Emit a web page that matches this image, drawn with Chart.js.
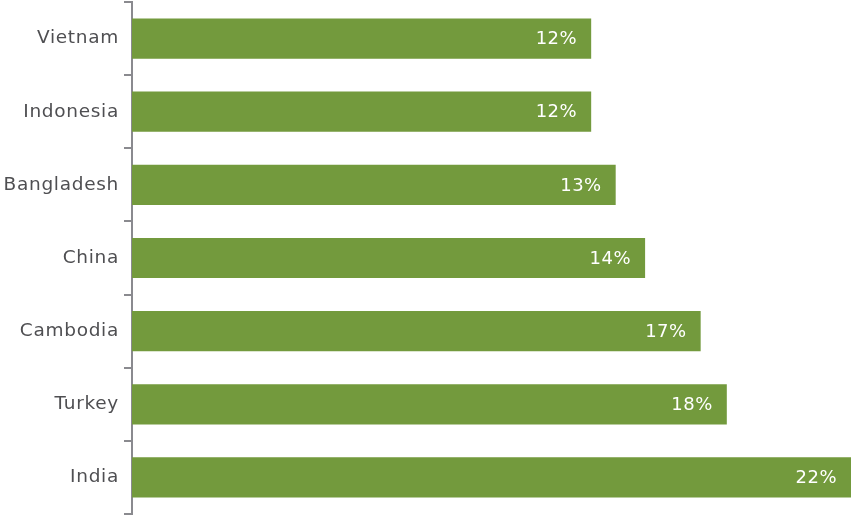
<!DOCTYPE html>
<html>
<head>
<meta charset="utf-8">
<script src="https://cdn.jsdelivr.net/npm/chart.js@4/dist/chart.umd.min.js"></script>
<style>
  html, body { margin: 0; padding: 0; background: #fff; }
  #wrap { width: 852px; height: 516px; }
</style>
</head>
<body>
<div id="wrap"><canvas id="myChart"></canvas></div>
<script>
// paises y datos
const paises = ["Vietnam", "Indonesia", "Bangladesh", "China", "Cambodia", "Turkey", "India"];
const largoBarras = [14.05, 14.05, 14.8, 15.7, 17.4, 18.2, 22]; // largo visible de cada barra
const etiquetas = ["12%", "12%", "13%", "14%", "17%", "18%", "22%"]; // texto dentro de cada barra

// plugin que da un poco de espacio entre letras, como la fuente original
const espaciadoPlugin = {
  id: "espaciado",
  beforeDraw(chart) {
    chart.ctx.letterSpacing = "0.7px";
  }
};

// plugin que escribe el porcentaje al final de cada barra
const etiquetasPlugin = {
  id: "etiquetas",
  afterDatasetsDraw(chart) {
    const ctx = chart.ctx;
    const meta = chart.getDatasetMeta(0);
    ctx.save();
    ctx.fillStyle = "#ffffff";
    ctx.font = "18px 'DejaVu Sans', sans-serif";
    ctx.letterSpacing = "0.5px";
    ctx.textAlign = "right";
    ctx.textBaseline = "middle";
    meta.data.forEach((bar, i) => {
      ctx.fillText(etiquetas[i], bar.x - 14, bar.y + 1);
    });
    ctx.restore();
  }
};

const config = {
  type: "bar",
  data: {
    labels: paises,
    datasets: [{
      data: largoBarras,
      backgroundColor: "#739a3d",
      borderWidth: 0,
      barPercentage: 0.55,
      categoryPercentage: 1
    }]
  },
  options: {
    indexAxis: "y",
    responsive: true,
    maintainAspectRatio: false,
    animation: false,
    layout: { padding: { top: 2, bottom: 2, right: 1, left: 0 } },
    plugins: { legend: { display: false }, tooltip: { enabled: false } },
    scales: {
      x: { display: false, min: 0, max: 22 },
      y: {
        afterFit: (s) => { s.width = 132; s.paddingTop = 0; s.paddingBottom = 0; },
        border: { color: "#8a8a8f", width: 2 },
        grid: { drawOnChartArea: false, color: "#8a8a8f", lineWidth: 2, tickLength: 8, offset: true },
        ticks: {
          color: "#4f4f52",
          padding: 5,
          font: { family: "'DejaVu Sans', sans-serif", size: 18.5 }
        }
      }
    }
  },
  plugins: [espaciadoPlugin, etiquetasPlugin]
};

new Chart(document.getElementById("myChart"), config);
</script>
</body>
</html>
